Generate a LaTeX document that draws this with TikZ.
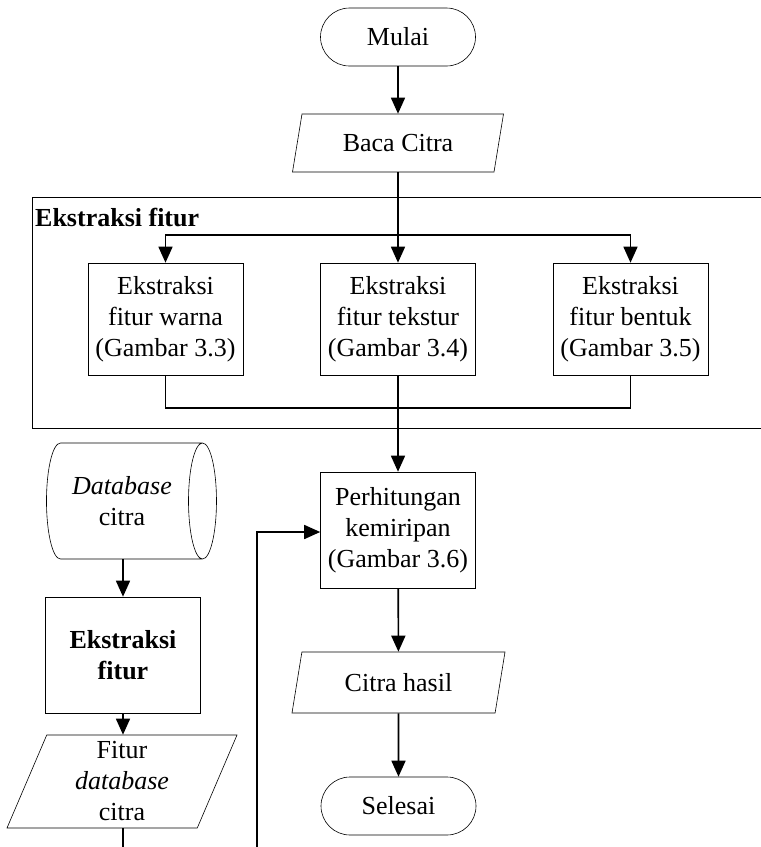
\documentclass[tikz,border=0pt]{standalone}
\usepackage{fontspec}
\setmainfont{Liberation Serif}
\usetikzlibrary{shapes,arrows,arrows.meta,positioning,calc}

\begin{document}
\begin{tikzpicture}[
    x=1pt, y=-1pt,
    every node/.style={font=\fontsize{26}{31}\selectfont, align=center},
    proc/.style={rectangle, draw=black, semithick, minimum width=155pt, minimum height=114pt, inner sep=2pt},
    term/.style={rectangle, draw=black, semithick, rounded corners=29pt, minimum width=155pt, minimum height=58pt},
    io/.style={trapezium, trapezium stretches body, draw=black, semithick, trapezium left angle=64, trapezium right angle=116, inner sep=1pt},
    store/.style={cylinder, draw=black, semithick, shape aspect=0.5, minimum width=116pt, minimum height=170pt},
    arr/.style={-{Triangle[length=16pt,width=14pt]}, line width=1.6pt},
    ln/.style={line width=1.6pt}
]
\useasboundingbox (0,0) rectangle (761,847);

% Frame
\draw[semithick] (790,197) -- (32,197) -- (32,428) -- (790,428);
\node[font=\fontsize{26}{31}\selectfont\bfseries, anchor=west, inner sep=0pt] (lbl) at (35,217) {Ekstraksi fitur};

% Main flow
\node[term] (mulai) at (398,37) {Mulai};
\node[io, minimum width=211pt, minimum height=58pt] (baca) at (398,143) {Baca Citra};
\node[proc, minimum height=112pt] (warna) at (165.5,319) {Ekstraksi\\fitur warna\\(Gambar 3.3)};
\node[proc, minimum height=112pt] (tekstur) at (398,319) {Ekstraksi\\fitur tekstur\\(Gambar 3.4)};
\node[proc, minimum height=112pt] (bentuk) at (630.5,319) {Ekstraksi\\fitur bentuk\\(Gambar 3.5)};
\node[proc, minimum height=116pt] (hitung) at (398,530) {Perhitungan\\kemiripan\\(Gambar 3.6)};
\node[io, minimum width=213pt, minimum height=61pt] (hasil) at (398.5,682.5) {Citra hasil};
\node[term] (selesai) at (398.5,806) {Selesai};

% Database flow
\node[store] (db) at (122,501) {\textit{Database}\\citra};
\node[proc, minimum height=116pt, font=\fontsize{26}{31}\selectfont\bfseries] (ekdb) at (123,655) {Ekstraksi\\fitur};
\node[io, minimum width=230pt, minimum height=93pt] (fitdb) at (122,781.5) {Fitur\\\textit{database}\\citra};

\coordinate (split) at (398,235);
\coordinate (merge) at (398,408);

% Connectors
\draw[arr] (mulai) -- (baca);
\draw[ln] (baca) -- (split);
\draw[arr] (split) -| (warna);
\draw[arr] (split) -| (bentuk);
\draw[arr] (split) -- (tekstur);
\draw[ln] (warna) |- (merge);
\draw[ln] (bentuk) |- (merge);
\draw[ln] (tekstur) -- (merge);
\draw[arr] (merge) -- (hitung);
\draw[arr] (hitung) -- (hasil);
\draw[arr] (hasil) -- (selesai);
\draw[arr] (ekdb.north |- db.south) -- (ekdb);
\draw[arr] (ekdb) -- (ekdb |- fitdb.north);
\draw[arr] (fitdb.south -| ekdb) -- ++(0,80) -| (257,532) -- (hitung.west |- 0,532);

\end{tikzpicture}
\end{document}
